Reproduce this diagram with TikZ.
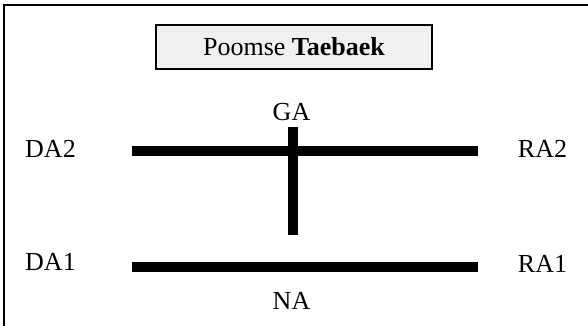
\documentclass[tikz,border=0pt]{standalone}
\usepackage{fontspec}
\setmainfont{Liberation Serif}
\begin{document}
\begin{tikzpicture}[
    x=1pt, y=-1pt,
    every node/.style={font=\fontsize{26}{30}\selectfont, inner sep=0pt},
    lbl/.style={anchor=base},
    bar/.style={line width=10.3pt, line cap=butt},
    titlebox/.style={draw, line width=2pt, fill=black!6,
                     minimum width=276pt, minimum height=44pt},
  ]
    \useasboundingbox (0,0) rectangle (588,325);
    % outer frame, cut off on the right and at the bottom
    \draw[line width=2pt] (4,5) rectangle (600,340);

    \node[titlebox] (title) at (294,46.7) {Poomse \textbf{Taebaek}};

    % the lines of the pattern
    \coordinate (dtop) at (131.5,151.3);
    \coordinate (rtop) at (477.5,151.3);
    \coordinate (dbot) at (131.5,266.7);
    \coordinate (rbot) at (477.5,266.7);
    \coordinate (gtop) at (293.2,126.7);
    \coordinate (gbot) at (293.2,235);
    \draw[bar] (dtop) -- (rtop);
    \draw[bar] (dbot) -- (rbot);
    \draw[bar] (gtop) -- (gbot);

    % the points
    \node[lbl] (da2) at (50.5,157) {DA2};
    \node[lbl] (ra2) at (542.5,157) {RA2};
    \node[lbl] (ga)  at (291.5,120) {GA};
    \node[lbl] (da1) at (50.5,270.5) {DA1};
    \node[lbl] (ra1) at (542.5,272) {RA1};
    \node[lbl] (na)  at (291.5,309) {NA};
  \end{tikzpicture}
\end{document}
